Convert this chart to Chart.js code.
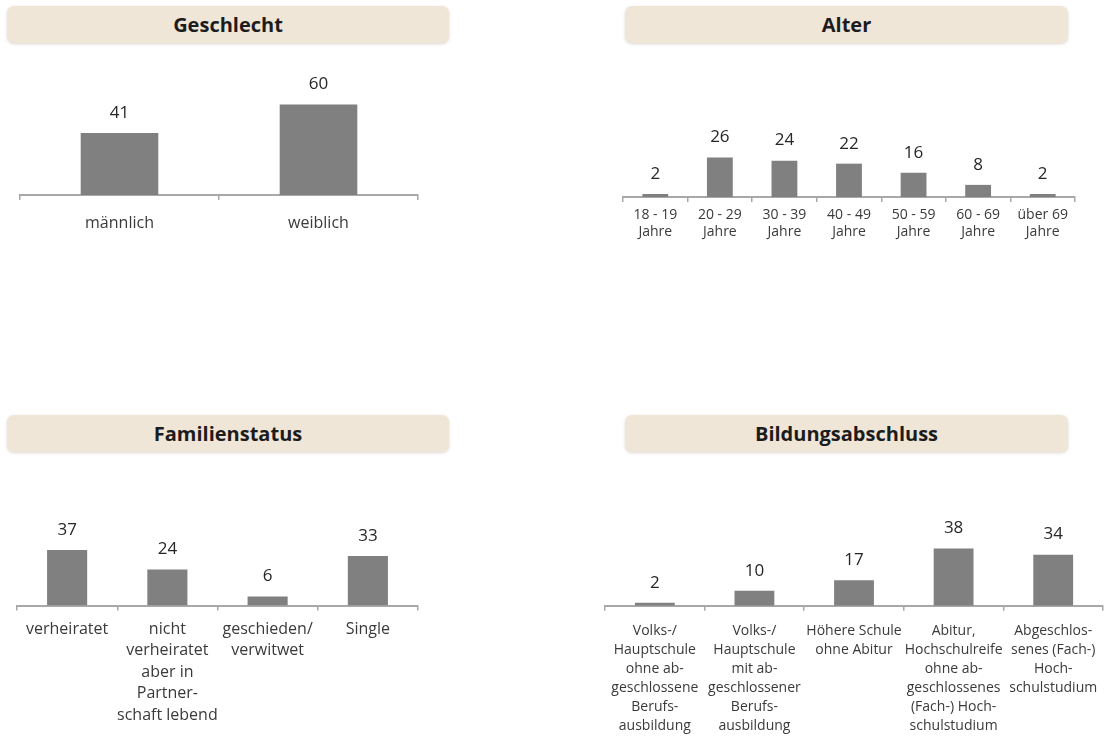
<!DOCTYPE html>
<html lang="de">
<head>
<meta charset="utf-8">
<title>Stichprobe – Soziodemografie</title>
<script src="https://cdn.jsdelivr.net/npm/chart.js@4.4.1/dist/chart.umd.min.js"></script>
<style>
  html, body { margin: 0; padding: 0; background: #ffffff; }
  body { width: 1111px; height: 737px; position: relative; overflow: hidden; font-family: "Open Sans", "DejaVu Sans", sans-serif; }
  .titel {
    position: absolute; height: 37px; line-height: 37px;
    background: #f0e6d8; border-radius: 7px;
    box-shadow: 0 1px 3px rgba(120, 100, 80, 0.25);
    text-align: center; font-weight: 700; font-size: 20px; color: #1c1c1c;
  }
  .panel { position: absolute; }
</style>
</head>
<body>
<div class="titel" style="left:7px; top:6px; width:442px;">Geschlecht</div>
<div class="titel" style="left:625px; top:6px; width:443px;">Alter</div>
<div class="titel" style="left:7px; top:415px; width:442px;">Familienstatus</div>
<div class="titel" style="left:625px; top:415px; width:443px;">Bildungsabschluss</div>

<div class="panel" style="left:0px; top:50px;"><canvas id="geschlecht" width="440" height="200"></canvas></div>
<div class="panel" style="left:600px; top:50px;"><canvas id="alter" width="500" height="200"></canvas></div>
<div class="panel" style="left:0px; top:460px;"><canvas id="familie" width="440" height="277"></canvas></div>
<div class="panel" style="left:600px; top:460px;"><canvas id="bildung" width="511" height="277"></canvas></div>

<script>
// Geschlecht
const geschlechtLabels = ['männlich', 'weiblich'];
const geschlechtWerte = [41, 60];

// Alter
const alterLabels = [
  ['18 - 19', 'Jahre'], ['20 - 29', 'Jahre'], ['30 - 39', 'Jahre'], ['40 - 49', 'Jahre'],
  ['50 - 59', 'Jahre'], ['60 - 69', 'Jahre'], ['über 69', 'Jahre']
];
const alterWerte = [2, 26, 24, 22, 16, 8, 2];

// Familienstatus
const familienLabels = [
  'verheiratet',
  ['nicht', 'verheiratet', 'aber in', 'Partner-', 'schaft lebend'],
  ['geschieden/', 'verwitwet'],
  'Single'
];
const familienWerte = [37, 24, 6, 33];

// Bildungsabschluss
const bildungLabels = [
  ['Volks-/', 'Hauptschule', 'ohne ab-', 'geschlossene', 'Berufs-', 'ausbildung'],
  ['Volks-/', 'Hauptschule', 'mit ab-', 'geschlossener', 'Berufs-', 'ausbildung'],
  ['Höhere Schule', 'ohne Abitur'],
  ['Abitur,', 'Hochschulreife', 'ohne ab-', 'geschlossenes', '(Fach-) Hoch-', 'schulstudium'],
  ['Abgeschlos-', 'senes (Fach-)', 'Hoch-', 'schulstudium']
];
const bildungWerte = [2, 10, 17, 38, 34];

const FONT = '"Open Sans", "DejaVu Sans", sans-serif';

// Writes each bar's value centred above it
const wertBeschriftung = {
  id: 'wertBeschriftung',
  afterDatasetsDraw(chart, args, opts) {
    const ctx = chart.ctx;
    const ds = chart.data.datasets[0];
    chart.getDatasetMeta(0).data.forEach((bar, i) => {
      ctx.save();
      ctx.font = `${opts.size || 16}px ${FONT}`;
      ctx.fillStyle = '#262626';
      ctx.textAlign = 'center';
      ctx.textBaseline = 'middle';
      ctx.fillText(String(ds.data[i]), bar.x, bar.y - (opts.offset || 20));
      ctx.restore();
    });
  }
};

function balken(id, labels, werte, cfg) {
  return new Chart(document.getElementById(id), {
    type: 'bar',
    data: {
      labels: labels,
      datasets: [{
        data: werte,
        backgroundColor: '#808080',
        borderWidth: 0,
        categoryPercentage: 1,
        barPercentage: cfg.bar
      }]
    },
    options: {
      responsive: false,
      animation: false,
      events: [],
      layout: { padding: { left: cfg.left, right: cfg.right, top: 0, bottom: 0 } },
      plugins: {
        legend: { display: false },
        tooltip: { enabled: false },
        title: { display: false },
        wertBeschriftung: { size: 17, offset: 20 }
      },
      scales: {
        x: {
          type: 'category',
          offset: true,
          grid: {
            display: true, offset: true, drawOnChartArea: false, drawTicks: true,
            tickLength: 5, color: '#a8a8a8', lineWidth: 1.5
          },
          border: { display: true, color: '#a8a8a8', width: 2 },
          ticks: {
            autoSkip: false, maxRotation: 0, minRotation: 0,
            padding: cfg.pad, color: '#3a3a3a',
            font: { family: FONT, size: cfg.font, lineHeight: cfg.lh + 'px' }
          },
          afterFit(scale) { scale.height = cfg.axisH; }
        },
        y: { display: false, min: 0, max: cfg.max }
      }
    },
    plugins: [wertBeschriftung]
  });
}

balken('geschlecht', geschlechtLabels, geschlechtWerte,
  { left: 20, right: 22, axisH: 55, max: 96, bar: 0.39, pad: 14, font: 16, lh: 19 });
balken('alter', alterLabels, alterWerte,
  { left: 23, right: 25, axisH: 53, max: 97, bar: 0.40, pad: 5, font: 14, lh: 17 });
balken('familie', familienLabels, familienWerte,
  { left: 17, right: 22, axisH: 131.5, max: 97, bar: 0.40, pad: 8, font: 16, lh: 21.5 });
balken('bildung', bildungLabels, bildungWerte,
  { left: 3, right: 8, axisH: 131.3, max: 97, bar: 0.40, pad: 11, font: 14, lh: 19 });
</script>
</body>
</html>
